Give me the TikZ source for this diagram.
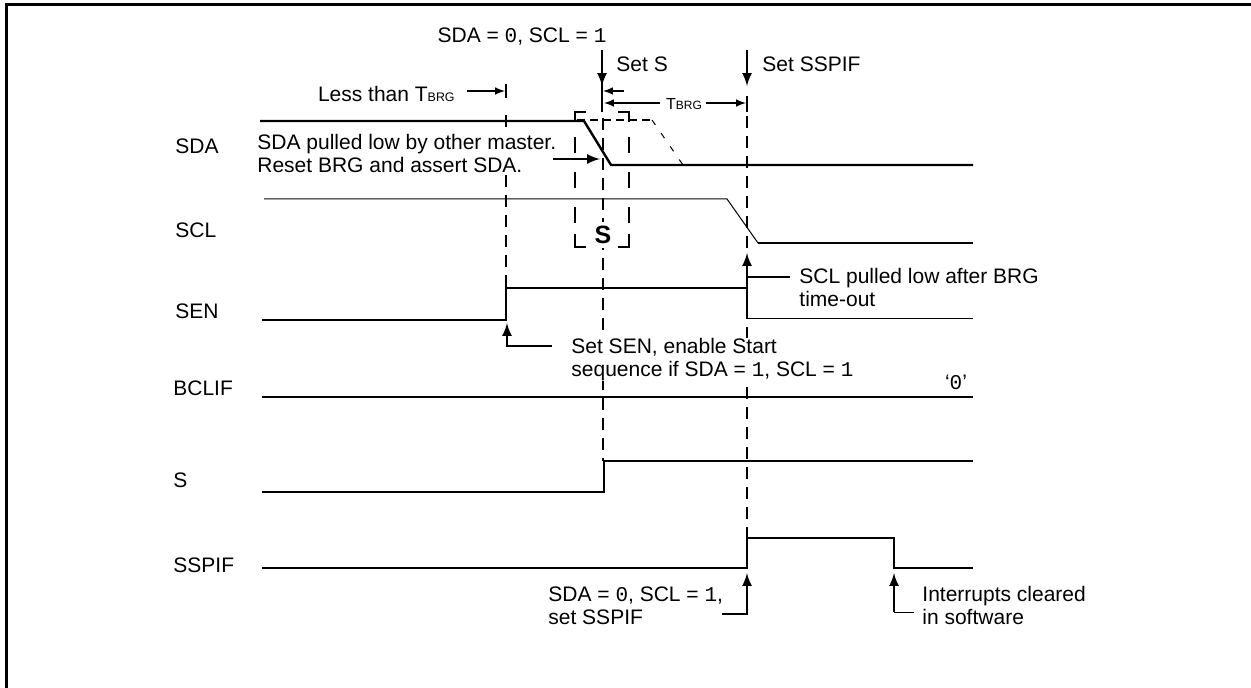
\documentclass[tikz,border=0pt]{standalone}
\usepackage{fontspec}
\setmainfont{Liberation Sans}
\newfontfamily\monofont{Liberation Mono}
\usepackage{tikz}
\usetikzlibrary{arrows,positioning}
\usetikzlibrary{calc}
\newcommand{\dig}[1]{{\monofont #1}}
\newcommand{\tbrg}{T{\fontsize{6.2}{7}\selectfont BRG}}

\begin{document}
\begin{tikzpicture}[x=0.5pt, y=-0.5pt, font=\fontsize{10.5}{11.5}\selectfont]
      \tikzstyle{sig} = [line width=1.2pt, line join=miter]
      \tikzstyle{thinsig} = [line width=0.5pt]
      \tikzstyle{guide} = [line width=1.2pt, dash pattern=on 6pt off 4pt]
      \tikzstyle{lbl} = [anchor=west, inner sep=0pt]
      \tikzstyle{note} = [anchor=west, inner sep=0pt, align=left, fill=white]
      \tikzstyle{arrow} = [draw, -latex, line width=1.2pt]
      \tikzstyle{dim} = [draw, -latex, line width=0.7pt]
      \useasboundingbox (0,0) rectangle (1251,688);
      \draw[line width=1.5pt] (1251,5) -- (6,5) -- (6,688);
      % signal names
      \node[lbl] (nSDA) at (175,146) {SDA};
      \node[lbl] (nSCL) at (175,230) {SCL};
      \node[lbl] (nSEN) at (175,311) {SEN};
      \node[lbl] (nBCLIF) at (173,388) {BCLIF};
      \node[lbl] (nS) at (173,480) {S};
      \node[lbl] (nSSPIF) at (173,565) {SSPIF};
      % waveforms
      \draw[sig] (260,121) -- (584,121) -- (611,165) -- (973,165);
      \draw[thinsig] (264,199) -- (727,199) -- (758,243);
      \draw[sig] (758,243) -- (973,243);
      \draw[sig] (262,320) -- (506,320) -- (506,288) -- (747,288) -- (747,319);
      \draw[thinsig] (747,319) -- (973,319);
      \draw[sig] (262,397) -- (973,397);
      \draw[sig] (262,492) -- (604,492) -- (604,461) -- (973,461);
      \draw[sig] (262,568) -- (747,568) -- (747,538) -- (894,538)
                 -- (894,568) -- (973,568);
      \node[inner sep=0pt] (zero) at (956,382) {`\dig{0}'};
      % SDA held high (other case)
      \draw[line width=1pt, dash pattern=on 4pt off 2.5pt] (577,120) -- (652,120);
      \draw[thinsig, dash pattern=on 3pt off 5pt] (652,120) -- (683,165);
      % guide lines
      \draw[guide] (506,115) -- (506,288);
      \draw[guide] (603,118) -- (603,461);
      \draw[guide] (747,116) -- (747,253);
      \draw[guide] (747,327) -- (747,538);
      % start condition box
      \draw[sig] (586,112) -- (575,112) -- (575,122);
      \draw[sig] (618,112) -- (629,112) -- (629,122);
      \draw[sig] (575,234) -- (575,247) -- (586,247);
      \draw[sig] (618,247) -- (629,247) -- (629,234);
      \draw[line width=1.2pt, dash pattern=on 8pt off 9.5pt] (575,137) -- (575,224);
      \draw[line width=1.2pt, dash pattern=on 8pt off 9.5pt] (629,137) -- (629,224);
      \node[fill=white, inner sep=2pt, font=\fontsize{12.5}{12.5}\selectfont\bfseries]
        (sBox) at (603,235) {S};
      % top annotations
      \node[inner sep=0pt] (cond) at (522,37) {SDA = \dig{0}, SCL = \dig{1}};
      \coordinate (setSTop) at (602,50);
      \coordinate (setS) at (602,86);
      \draw[arrow] (setSTop) -- (setS);
      \node[note] (tSetS) at (616,64) {Set S};
      \coordinate (setFTop) at (747,50);
      \coordinate (setF) at (747,86);
      \draw[arrow] (setFTop) -- (setF);
      \node[note] (tSetF) at (762,64) {Set SSPIF};
      \node[anchor=east, inner sep=0pt] (less) at (455,94) {Less than \tbrg};
      \coordinate (lessEnd) at (505,91);
      \draw[dim] (467,91) -- (lessEnd);
      \draw[line width=0.8pt] (506,84) -- (506,98);
      \draw[line width=0.8pt] (602,82) -- (602,112);
      \draw[line width=0.8pt] (747,96) -- (747,112);
      \coordinate (shortEnd) at (603,91);
      \draw[dim] (624,91) -- (shortEnd);
      \node[inner sep=0pt, font=\fontsize{8}{8}\selectfont] (tb) at (684,104)
        {T{\fontsize{6}{6}\selectfont BRG}};
      \coordinate (tbL) at (604,103);
      \coordinate (tbR) at (746,103);
      \draw[dim] (tb.west |- tbL) ++(-6,0) -- (tbL);
      \draw[dim] (tb.east |- tbR) ++(4,0) -- (tbR);
      % SDA note
      \node[note] (tSDA) at (257,154)
        {SDA pulled low by other master.\\Reset BRG and assert SDA.};
      \coordinate (sdaTail) at (553,159);
      \coordinate (sdaEdge) at (600,159);
      \draw[arrow] (sdaTail) -- (sdaEdge);
      % SEN note
      \node[note] (tSEN) at (571,359.5)
        {Set SEN, enable Start\\sequence if SDA = \dig{1}, SCL = \dig{1}};
      \coordinate (senTail) at (552,346);
      \coordinate (senEdge) at (507,323);
      \draw[arrow] (senTail) -| (senEdge);
      % SCL note
      \node[note] (tSCL) at (799,287.5) {SCL pulled low after BRG\\time-out};
      \coordinate (sclTail) at (790,277);
      \coordinate (sclJoin) at (747,277);
      \coordinate (sclBase) at (747,319);
      \coordinate (sclEdge) at (747,253);
      \draw[sig] (sclTail) -- (sclJoin);
      \draw[arrow] (sclBase) -- (sclEdge);
      % SSPIF notes
      \node[note] (tSSPIF) at (548,605.5) {SDA = \dig{0}, SCL = \dig{1},\\set SSPIF};
      \coordinate (fTail) at (722,614);
      \coordinate (fEdge) at (747,573);
      \draw[arrow] (fTail) -| (fEdge);
      \node[note] (tClr) at (922,605.5) {Interrupts cleared\\in software};
      \coordinate (cTail) at (914,612);
      \coordinate (cCorner) at (894,612);
      \coordinate (cEdge) at (894,573);
      \draw[thinsig] (cTail) -- (cCorner);
      \draw[arrow] (cCorner) -- (cEdge);
\end{tikzpicture}
\end{document}
